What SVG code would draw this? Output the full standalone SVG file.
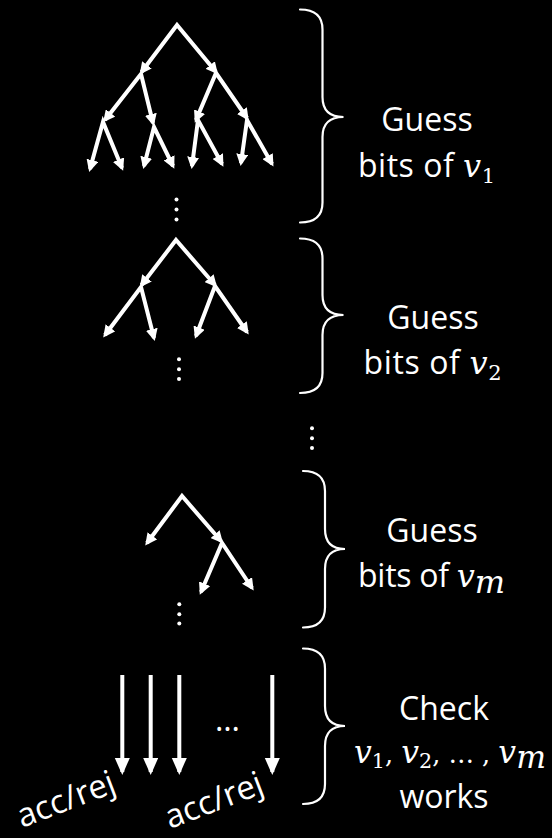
<svg xmlns="http://www.w3.org/2000/svg" width="552" height="838" viewBox="0 0 552 838">
<style>
.bg{fill:#000}
.t{fill:#fff;stroke:none;font-family:"Open Sans","Noto Sans","DejaVu Sans",sans-serif;font-size:32px;text-anchor:middle}
.m{font-family:"DejaVu Serif","Liberation Serif",serif;font-style:italic;font-size:32px}
.s{font-family:"DejaVu Serif","Liberation Serif",serif;font-style:normal;font-size:21px}
.p{font-family:"DejaVu Serif","Liberation Serif",serif;font-style:normal;font-size:26px}
.arr{fill:none;stroke:#fff;stroke-width:4;stroke-linejoin:miter;marker-start:url(#ah);marker-end:url(#ah)}
.down{fill:none;stroke:#fff;stroke-width:4;marker-end:url(#ahb)}
.brace{fill:none;stroke:#fff;stroke-width:2.2;stroke-linecap:round}
.dot{fill:#fff}
</style>
<defs>
<marker id="ah" markerUnits="userSpaceOnUse" markerWidth="13" markerHeight="12" refX="9" refY="6" orient="auto-start-reverse" viewBox="0 0 13 12">
<path d="M0,0 L12,6 L0,12 z" fill="#fff"/>
</marker>
<marker id="ahb" markerUnits="userSpaceOnUse" markerWidth="18" markerHeight="16" refX="14" refY="7.5" orient="auto" viewBox="0 0 18 16">
<path d="M0,0 L17,7.5 L0,15 z" fill="#fff"/>
</marker>
</defs>
<rect class="bg" x="0" y="0" width="552" height="838"/>

<g id="connectors">
  <!-- tree 1 -->
  <path class="arr" d="M141.5,72 L177,25 L216,72"/>
  <path class="arr" d="M105,120 L141,74 L153,123"/>
  <path class="arr" d="M196,120 L216,73 L247,118"/>
  <path class="arr" d="M90,169 L103,122 L122,168"/>
  <path class="arr" d="M144,166 L154,127 L173,166"/>
  <path class="arr" d="M192,166 L198,120 L222,164"/>
  <path class="arr" d="M241,163 L247,120 L272,164"/>
  <!-- tree 2 -->
  <path class="arr" d="M141.5,285 L176,240 L215,285"/>
  <path class="arr" d="M105,335 L141,287 L154,338"/>
  <path class="arr" d="M196,336 L215,286 L247,332"/>
  <!-- tree 3 -->
  <path class="arr" d="M147,543 L182,496 L221,541"/>
  <path class="arr" d="M201,592 L222,543 L252,588"/>
  <!-- check arrows -->
  <line class="down" x1="122.3" y1="675" x2="122.3" y2="772"/>
  <line class="down" x1="150.7" y1="675" x2="150.7" y2="772"/>
  <line class="down" x1="179.3" y1="675" x2="179.3" y2="772"/>
  <line class="down" x1="272.3" y1="675" x2="272.3" y2="772"/>
</g>

<g id="dots">
  <circle class="dot" cx="176.5" cy="199.5" r="2"/><circle class="dot" cx="176.5" cy="209.5" r="2"/><circle class="dot" cx="176.5" cy="219.5" r="2"/>
  <circle class="dot" cx="179" cy="359.3" r="2"/><circle class="dot" cx="179" cy="369.3" r="2"/><circle class="dot" cx="179" cy="379" r="2"/>
  <circle class="dot" cx="312" cy="428.3" r="2"/><circle class="dot" cx="312" cy="438.3" r="2"/><circle class="dot" cx="312" cy="448" r="2"/>
  <circle class="dot" cx="179.3" cy="604.3" r="2"/><circle class="dot" cx="179.3" cy="614.3" r="2"/><circle class="dot" cx="179.3" cy="623.5" r="2"/>
  <text class="t" x="227.5" y="731">…</text>
</g>

<g id="brace1">
  <path class="brace" d="M300,9.5 Q322.5,9.5 322.5,29.5 L322.5,97 Q322.5,117 343.5,117 Q322.5,117 322.5,137 L322.5,202.5 Q322.5,222.5 300,222.5"/>
  <text class="t" x="427" y="131">Guess</text>
  <text class="t" x="426.5" y="177" textLength="137" lengthAdjust="spacing">bits of <tspan class="m">v</tspan><tspan class="s" dy="6">1</tspan></text>
</g>
<g id="brace2">
  <path class="brace" d="M300,238.5 Q322.5,238.5 322.5,258.5 L322.5,295 Q322.5,315 343.5,315 Q322.5,315 322.5,335 L322.5,373 Q322.5,393 300,393"/>
  <text class="t" x="433" y="329">Guess</text>
  <text class="t" x="432.5" y="374" textLength="138" lengthAdjust="spacing">bits of <tspan class="m">v</tspan><tspan class="s" dy="6">2</tspan></text>
</g>
<g id="brace3">
  <path class="brace" d="M303,471 Q325,471 325,491 L325,529 Q325,549 345,549 Q325,549 325,569 L325,607.5 Q325,627.5 303,627.5"/>
  <text class="t" x="432" y="542">Guess</text>
  <text class="t" x="431.5" y="587" textLength="147" lengthAdjust="spacing">bits of <tspan class="m">v</tspan><tspan class="m" font-size="22" dy="6">m</tspan></text>
</g>
<g id="brace4">
  <path class="brace" d="M303,648.5 Q325,648.5 325,668.5 L325,706 Q325,726 345,726 Q325,726 325,746 L325,784 Q325,804 303,804"/>
  <text class="t" x="444" y="720">Check</text>
  <text class="t" x="450" y="763" textLength="192" lengthAdjust="spacingAndGlyphs"><tspan class="m" font-size="30">v</tspan><tspan class="s" font-size="20" dy="5">1</tspan><tspan class="p" dy="-5">, </tspan><tspan class="m" font-size="30">v</tspan><tspan class="s" font-size="20" dy="5">2</tspan><tspan class="p" dy="-5">, … , </tspan><tspan class="m" font-size="30">v</tspan><tspan class="m" font-size="21" dy="5">m</tspan></text>
  <text class="t" x="444" y="808">works</text>
</g>

<g id="labels">
  <text class="t" style="text-anchor:start;font-size:33px" transform="translate(22,828) rotate(-21)">acc/rej</text>
  <text class="t" style="text-anchor:start;font-size:33px" transform="translate(170,829) rotate(-21)">acc/rej</text>
</g>
</svg>
